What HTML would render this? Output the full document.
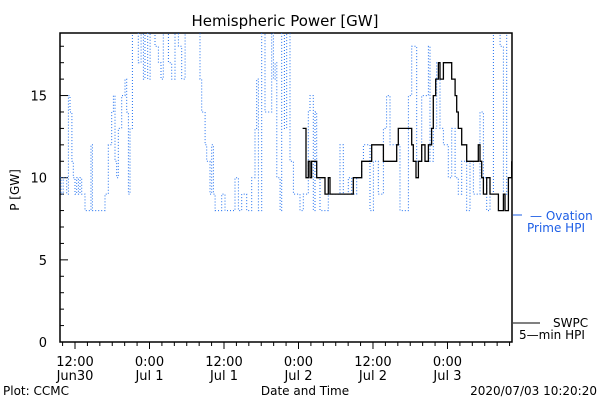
<!DOCTYPE html>
<html><head><meta charset="utf-8"><style>
body{margin:0;background:#fff}
svg{display:block;font-family:"DejaVu Sans","Liberation Sans",sans-serif}
</style></head><body>
<svg id="c" width="600" height="400" viewBox="0 0 600 400">
<text x="285" y="26" font-size="15" text-anchor="middle">Hemispheric Power [GW]</text>
<text x="19" y="190" font-size="12" text-anchor="middle" transform="rotate(-90 19 190)">P [GW]</text>
<text x="305" y="395" font-size="12" text-anchor="middle">Date and Time</text>
<text x="3" y="395" font-size="12">Plot: CCMC</text>
<text x="597" y="395" font-size="12" text-anchor="end">2020/07/03 10:20:20</text>
<defs><clipPath id="clip"><rect x="60" y="33" width="452" height="309"/></clipPath></defs>
<g id="axes"></g>
<g id="series" clip-path="url(#clip)"></g>
<line x1="513" y1="215" x2="522" y2="215" stroke="#1e5fe6" stroke-width="1"/>
<text x="530" y="220" font-size="12" fill="#1e5fe6">— Ovation</text>
<text x="527" y="232" font-size="12" fill="#1e5fe6">Prime HPI</text>
<line x1="513" y1="323" x2="540" y2="323" stroke="#000" stroke-width="1"/>
<text x="553" y="327" font-size="12">SWPC</text>
<text x="519" y="339" font-size="12">5—min HPI</text>
</svg>
<script>
// times in hours since Jun30 00:00
const blueT=[9.6,9.75,10.1,10.66,10.93,11.2,11.5,11.73,12.0,12.27,12.54,12.81,13.08,13.61,14.42,14.58,14.8,16.84,17.37,17.91,18.18,18.45,18.72,18.98,19.52,20.06,20.33,20.6,20.86,21.24,22.2,22.64,23.01,23.28,23.71,24.09,24.89,25.43,25.86,26.23,27.04,27.58,28.11,28.65,29.19,29.73,31.34,32.14,32.41,32.95,33.22,33.75,34.02,34.29,34.56,35.63,36.17,37.78,38.32,38.86,39.66,40.47,41.0,41.27,41.54,42.08,42.61,43.69,43.96,44.23,44.5,45.03,45.3,45.73,46.1,46.64,47.18,48.24,48.78,49.58,49.85,50.39,50.66,50.93,51.46,52.81,54.69,55.22,56.03,56.57,57.37,58.18,58.45,59.52,60.06,60.86,61.67,62.2,62.74,64.35,65.16,65.7,66.23,66.77,67.04,67.84,68.92,69.19,69.72,70.26,70.8,71.34,72.14,72.68,73.22,73.75,74.29,75.1,75.63,76.17,77.24,77.78,78.32,78.85,79.39,80.47,81.0,81.54,82.08,82.4];
const blueV=[10,9,10,9,15,14,11,10,9,10,9,10,9,8,8,12,8,9,12,14,15,11,10,13,15,16,14,9,13,19,17,19,16,19,16,19,18,17,16,19,17,16,19,18,16,19,19,16,14,12,11,9,12,9,8,9,8,10,8,9,8,10,13,16,8,19,14,19,16,17,10,8,19,13,19,11,9,8,9,14,15,8,14,10,8,9,12,9,10,9,10,11,12,8,11,9,13,15,12,8,8,15,18,18,11,15,18,11,13,17,13,12,10,13,10,9,11,8,11,9,14,10,8,9,19,18,9,19,19,19];
const blackT=[48.67,49.21,49.58,49.85,50.12,50.93,52.27,52.81,53.07,56.83,58.18,59.79,61.4,61.67,63.82,64.08,66.23,66.5,66.93,67.31,67.84,68.38,68.92,69.45,69.72,70.1,70.53,70.8,71.34,72.68,73.22,73.48,73.75,74.29,75.1,76.97,77.24,77.51,77.78,78.32,78.85,80.2,81.0,81.27,81.81,82.35];
const blackV=[13,10,11,10,11,10,9,10,9,10,11,12,12,11,12,13,12,11,10,11,12,11,12,13,15,16,17,16,17,16,15,14,13,12,11,12,11,10,9,10,9,8,9,8,10,11];
const yTicks=[0,5,10,15];
const xTickT=[12,24,36,48,60,72];
const xTickTop=["12:00","0:00","12:00","0:00","12:00","0:00"];
const xTickBot=["Jun30","Jul 1","Jul 1","Jul 2","Jul 2","Jul 3"];

const NS="http://www.w3.org/2000/svg";
const X=t=>75+(t-12)*6.208;
const Y=v=>342-v*16.43;
function mk(tag,attrs,parent){const e=document.createElementNS(NS,tag);for(const k in attrs)e.setAttribute(k,attrs[k]);parent.appendChild(e);return e;}
const axes=document.getElementById('axes'), series=document.getElementById('series');
const frame=mk('path',{d:'M60,33 H512 V342 H60 Z',fill:'none',stroke:'#000','stroke-width':1.5},axes);


for(let v=0;v<=18;v++){
  const big=v%5===0;
  const l=mk('line',{x1:60,x2:big?68:64,y1:Y(v),y2:Y(v),stroke:'#000'},axes);
  
  
}
yTicks.forEach(v=>{
  const t=mk('text',{x:47,y:Y(v)+5,'font-size':13,'text-anchor':'end'},axes);t.textContent=v;
  
  
});
for(let h=10;h<=82;h+=2){
  const big=h%12===0;
  const l=mk('line',{x1:X(h),x2:X(h),y1:342,y2:big?349:346,stroke:'#000'},axes);
  
  
}
xTickT.forEach((h,i)=>{
  const a=mk('text',{x:X(h),y:366,'font-size':13,'text-anchor':'middle'},axes);a.textContent=xTickTop[i];
  
  
  const b=mk('text',{x:X(h),y:380,'font-size':13,'text-anchor':'middle'},axes);b.textContent=xTickBot[i];
  
  
});
function stepPath(T,V){let d='M'+X(T[0]).toFixed(1)+','+Y(V[0]).toFixed(1);for(let i=1;i<T.length;i++){d+=' H'+X(T[i]).toFixed(1)+' V'+Y(V[i]).toFixed(1);}return d;}
const bp=mk('path',{d:stepPath(blueT,blueV),fill:'none',stroke:'#1e6ff0','stroke-width':1,'stroke-dasharray':'1 2'},series);


const kp=mk('path',{d:stepPath(blackT,blackV),fill:'none',stroke:'#000','stroke-width':1.3},series);


</script>
</body></html>
